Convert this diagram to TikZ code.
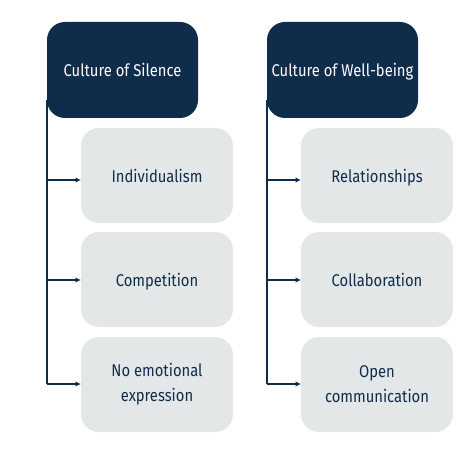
\documentclass[tikz,border=0pt]{standalone}
\usepackage{fontspec}
\setmainfont{Fira Sans}[FakeStretch=0.87]
\usetikzlibrary{arrows.meta}
\definecolor{navy}{HTML}{0F2D4A}
\definecolor{lightbox}{HTML}{E4E7E8}
\begin{document}
\begin{tikzpicture}[x=1pt,y=-1pt,
  head/.style={fill=navy,rounded corners=18pt},
  item/.style={fill=lightbox,rounded corners=18pt},
  htext/.style={text=white,anchor=base,font=\fontsize{17}{20}\selectfont},
  itext/.style={text=navy,anchor=base,font=\fontsize{17}{25}\selectfont},
  mtext/.style={text=navy,align=center,font=\fontsize{17}{25}\selectfont},
  trunk/.style={draw=navy,line width=1.3pt},
  conn/.style={draw=navy,line width=1.3pt,-{Latex[length=5.5pt,width=5.5pt]}}]
\useasboundingbox (0,0) rectangle (465,465);
% left column
\path[head] (47,22) rectangle (198,118);
\node[htext] (h1) at (122.5,77) {Culture of Silence};
\path[item] (81,128) rectangle (233,223);
\node[itext] (a1) at (157,182) {Individualism};
\path[item] (81,232) rectangle (233,327);
\node[itext] (a2) at (157,286) {Competition};
\path[item] (81,337) rectangle (233,432);
\node[mtext] (a3) at (157,384) {No emotional\\expression};
\coordinate (s1) at (47,100);
\coordinate (s0) at (47,384);
\coordinate (f1) at (47,180);
\coordinate (f2) at (47,280);
\coordinate (t1) at (81,180);
\coordinate (t2) at (81,280);
\coordinate (t3) at (81,384);
\draw[trunk] (s1) -- (s0);
\draw[conn] (f1) -- (t1);
\draw[conn] (f2) -- (t2);
\draw[conn] (s0) -- (t3);
% right column
\path[head] (267,22) rectangle (418,118);
\node[htext] (h2) at (342.5,77) {Culture of Well-being};
\path[item] (301,128) rectangle (453,223);
\node[itext] (b1) at (377,182) {Relationships};
\path[item] (301,232) rectangle (453,327);
\node[itext] (b2) at (377,286) {Collaboration};
\path[item] (301,337) rectangle (453,432);
\node[mtext] (b3) at (377,384) {Open\\communication};
\coordinate (r1) at (267,100);
\coordinate (r0) at (267,384);
\coordinate (g1) at (267,180);
\coordinate (g2) at (267,280);
\coordinate (u1) at (301,180);
\coordinate (u2) at (301,280);
\coordinate (u3) at (301,384);
\draw[trunk] (r1) -- (r0);
\draw[conn] (g1) -- (u1);
\draw[conn] (g2) -- (u2);
\draw[conn] (r0) -- (u3);
\end{tikzpicture}
\end{document}
